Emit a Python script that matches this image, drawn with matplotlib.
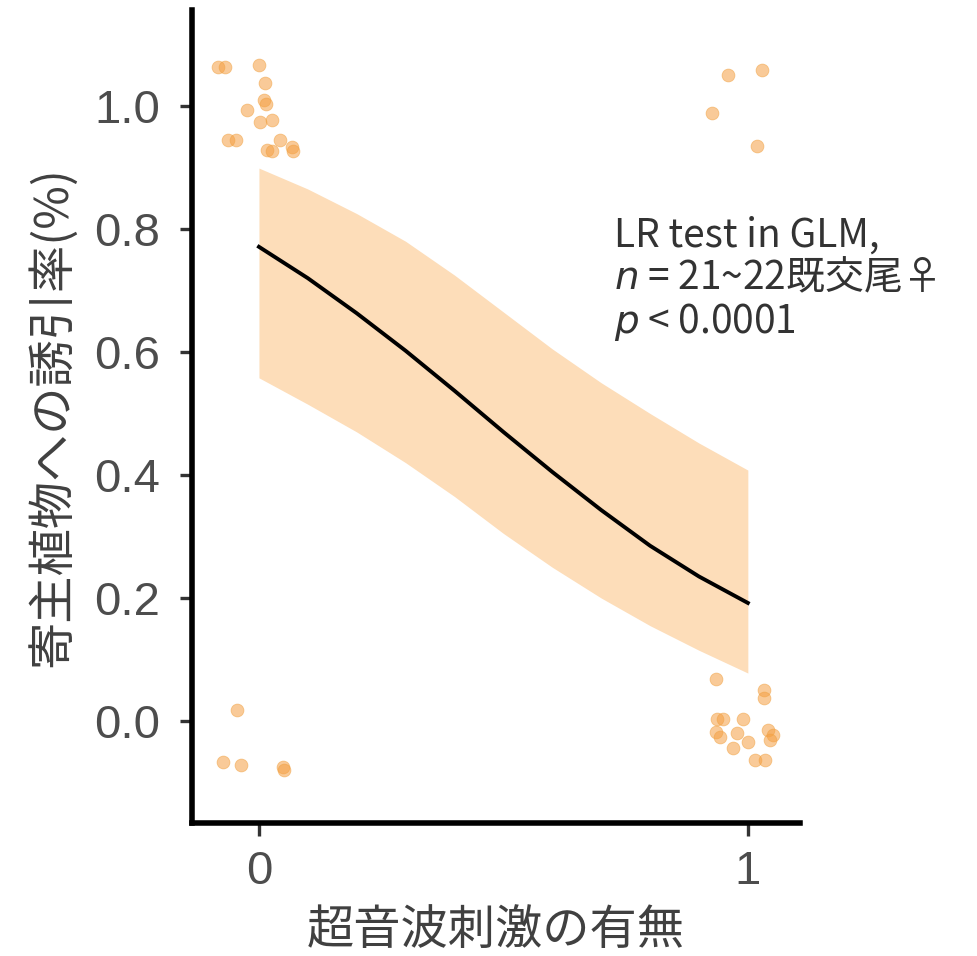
import matplotlib
matplotlib.use("Agg")
import matplotlib.pyplot as plt

# GLM fit (stimulus 0 -> 1)
FIT_X = [0.0, 0.1, 0.2, 0.3, 0.4, 0.5, 0.6, 0.7, 0.8, 0.9, 1.0]
FIT_Y = [0.771, 0.720, 0.663, 0.602, 0.537, 0.470, 0.405, 0.343, 0.285, 0.235, 0.192]
CI_LOW = [0.558, 0.515, 0.470, 0.420, 0.365, 0.305, 0.250, 0.200, 0.155, 0.115, 0.078]
CI_HIGH = [0.899, 0.865, 0.825, 0.780, 0.725, 0.665, 0.605, 0.550, 0.500, 0.452, 0.408]

# jittered raw observations
PTS_X = [
    -0.084, -0.070, 0.000, 0.012, 0.010, 0.014, -0.025, 0.002, 0.026,
    -0.063, -0.046, 0.016, 0.026, 0.043, 0.067, 0.070,
    -0.045, -0.074, -0.037, 0.049, 0.052,
    0.959, 1.029, 0.926, 1.018,
    0.935, 1.033, 1.033, 0.936, 0.950, 0.990, 0.935, 0.943, 0.978,
    1.000, 0.969, 1.042, 1.052, 1.045, 1.014, 1.035,
]
PTS_Y = [
    1.063, 1.063, 1.066, 1.037, 1.010, 1.003, 0.993, 0.974, 0.977,
    0.945, 0.945, 0.928, 0.926, 0.945, 0.934, 0.926,
    0.018, -0.067, -0.072, -0.075, -0.079,
    1.050, 1.059, 0.989, 0.935,
    0.068, 0.050, 0.037, 0.003, 0.003, 0.003, -0.018, -0.026, -0.020,
    -0.034, -0.044, -0.015, -0.023, -0.031, -0.063, -0.063,
]

X_TICKS = [0, 1]
Y_TICKS = [0.0, 0.2, 0.4, 0.6, 0.8, 1.0]
Y_TICK_LABELS = ["0.0", "0.2", "0.4", "0.6", "0.8", "1.0"]

CJK = ["Noto Sans CJK JP", "DejaVu Sans"]

fig = plt.figure(figsize=(9.77, 9.56), dpi=100)
ax = fig.add_axes([0.1965, 0.139, 0.622, 0.8505])

ax.fill_between(FIT_X, CI_LOW, CI_HIGH, color="#FDDDB9", linewidth=0, zorder=1)
ax.plot(FIT_X, FIT_Y, color="black", linewidth=2.8, zorder=3)
ax.scatter(PTS_X, PTS_Y, s=85, color="#F5A043", alpha=0.55,
           edgecolors="#F0A040", linewidths=0.6, zorder=2)

ax.set_xlim(-0.137, 1.106)
ax.set_ylim(-0.166, 1.156)

for side in ["top", "right"]:
    ax.spines[side].set_visible(False)
for side in ["left", "bottom"]:
    ax.spines[side].set_linewidth(4)
    ax.spines[side].set_color("black")

ax.set_xticks(X_TICKS)
ax.set_xticklabels([str(v) for v in X_TICKS])
ax.set_yticks(Y_TICKS)
ax.set_yticklabels(Y_TICK_LABELS)
ax.tick_params(axis="both", length=9, width=2.4, color="#333333",
               labelsize=34, labelcolor="#4D4D4D")
ax.tick_params(axis="y", pad=14)
ax.tick_params(axis="x", pad=10)
for lab in ax.get_xticklabels() + ax.get_yticklabels():
    lab.set_family("Liberation Sans")

ax.set_xlabel("超音波刺激の有無", family=CJK, fontsize=34, color="#404040", labelpad=9)
ax.set_ylabel("寄主植物への誘引率(%)", family=CJK, fontsize=34, color="#404040", labelpad=12)

ax.text(0.726, 0.822,
        "LR test in GLM,\n$n$ = 21~22既交尾♀\n$p$ < 0.0001",
        family=CJK, fontsize=28, color="#333333", ha="left", va="top",
        linespacing=1.08)

fig.savefig("out.png", dpi=100)
